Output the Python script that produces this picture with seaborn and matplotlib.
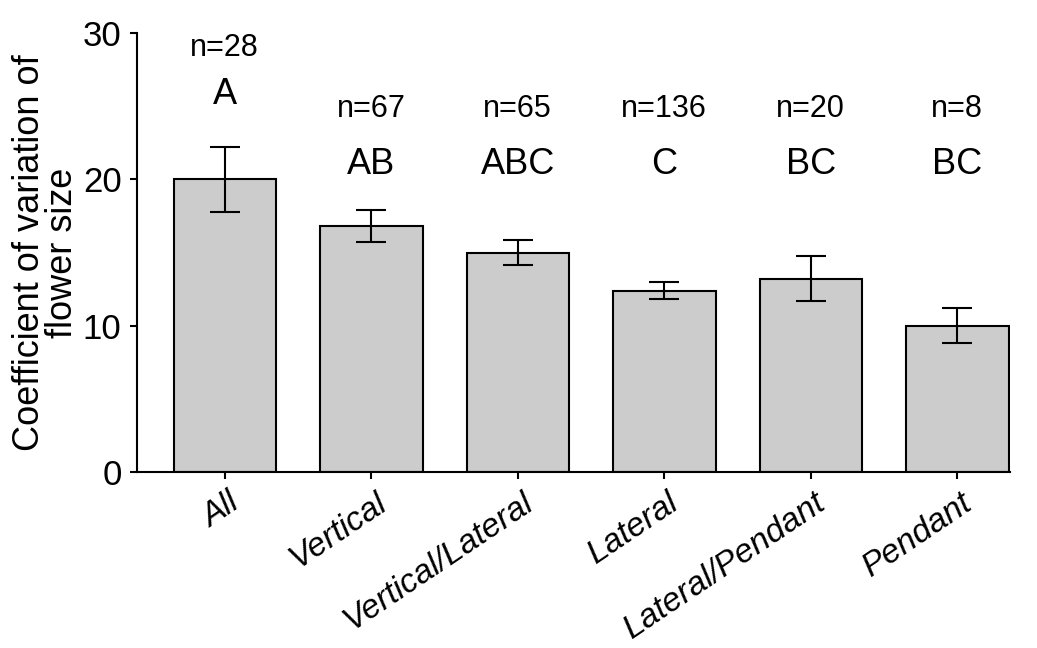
import matplotlib
matplotlib.use("Agg")
import matplotlib.pyplot as plt
import matplotlib.transforms as mtransforms
import seaborn as sns
import pandas as pd

# data
categories = ["All", "Vertical", "Vertical/Lateral", "Lateral", "Lateral/Pendant", "Pendant"]
cv_mean = [20.0, 16.8, 15.0, 12.4, 13.2, 10.0]
cv_se = [2.2, 1.1, 0.85, 0.57, 1.53, 1.2]
sample_n = ["n=28", "n=67", "n=65", "n=136", "n=20", "n=8"]
groups = ["A", "AB", "ABC", "C", "BC", "BC"]
n_label_y = [29.0, 24.85, 24.85, 24.85, 24.85, 24.85]
group_label_y = [25.8, 21.0, 21.0, 21.0, 21.0, 21.0]

df = pd.DataFrame({"orientation": categories, "cv": cv_mean})

sns.set_style("ticks")
plt.rcParams["font.family"] = ["Liberation Sans", "DejaVu Sans"]
plt.rcParams["text.color"] = "black"
plt.rcParams["axes.labelcolor"] = "black"
plt.rcParams["xtick.color"] = "black"
plt.rcParams["ytick.color"] = "black"

fig, ax = plt.subplots(figsize=(10.37, 6.48), dpi=100)
fig.subplots_adjust(left=0.132, right=0.974, bottom=0.272, top=0.9486)

sns.barplot(data=df, x="orientation", y="cv", color="#cccccc", width=0.7,
            edgecolor="black", linewidth=1.5, errorbar=None, saturation=1, ax=ax)
ax.errorbar(range(len(categories)), cv_mean, yerr=cv_se, fmt="none",
            ecolor="black", elinewidth=1.5, capsize=10.5, capthick=1.5)

for i in range(len(categories)):
    ax.text(i, n_label_y[i], sample_n[i], ha="center", va="center", fontsize=22)
    ax.text(i, group_label_y[i], groups[i], ha="center", va="center", fontsize=26)

ax.set_ylim(0, 30)
ax.set_xlim(-0.6, 5.36)
ax.set_yticks([0, 10, 20, 30])
ax.set_xlabel("")
ax.set_ylabel("Coefficient of variation of\nflower size", fontsize=26,
              linespacing=0.95, va="center")
ax.yaxis.set_label_coords(-0.104, 0.5)
ax.tick_params(axis="y", labelsize=25, length=5, width=1.5, pad=6)
ax.tick_params(axis="x", labelsize=24, length=5, width=1.5, pad=4)

# nudge the slanted labels a little right/down, like the original
shift = mtransforms.ScaledTranslation(12 / 100, -16 / 100, fig.dpi_scale_trans)
for lab in ax.get_xticklabels():
    lab.set_rotation(34)
    lab.set_ha("right")
    lab.set_va("center")
    lab.set_rotation_mode("anchor")
    lab.set_style("italic")
    lab.set_transform(lab.get_transform() + shift)

sns.despine(ax=ax)
for side in ["left", "bottom"]:
    ax.spines[side].set_linewidth(1.5)
    ax.spines[side].set_color("black")

plt.savefig("out.png", dpi=100)
